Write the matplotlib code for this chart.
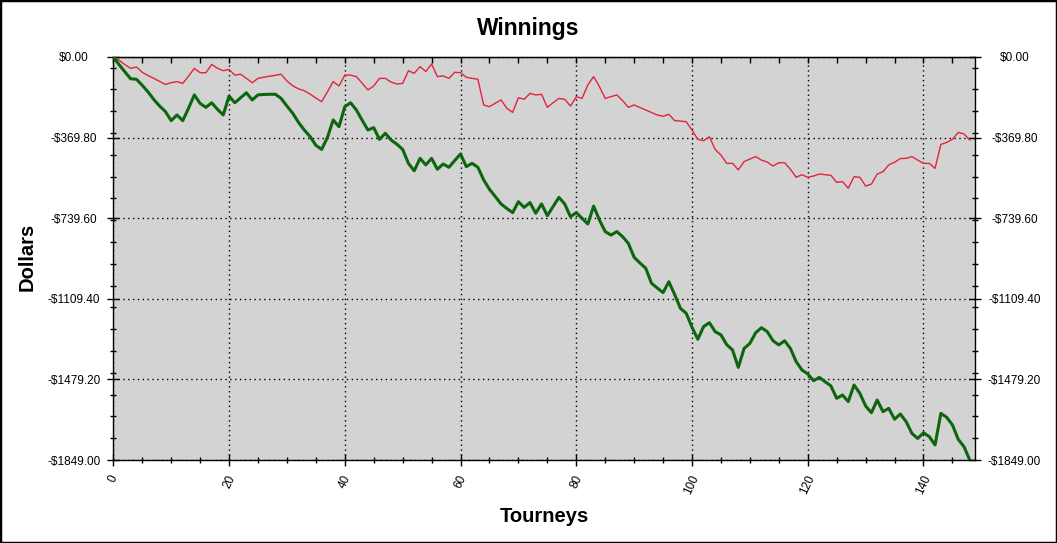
import numpy as np
import matplotlib
matplotlib.use("Agg")
import matplotlib.pyplot as plt
from matplotlib.ticker import FixedLocator, MultipleLocator, FuncFormatter
from matplotlib.patches import Rectangle

plt.rcParams['font.family'] = ['Liberation Sans', 'DejaVu Sans']

# cumulative winnings per tourney
green = [0, -35, -68, -100, -102, -130, -160, -195, -225, -250,
         -292, -266, -292, -235, -174, -213, -231, -210, -240, -266,
         -179, -210, -187, -164, -197, -174, -172, -171, -171, -190,
         -225, -258, -300, -335, -365, -405, -424, -369, -289, -320,
         -228, -210, -243, -290, -335, -324, -378, -350, -381, -400,
         -424, -488, -522, -465, -495, -465, -515, -491, -506, -475,
         -445, -503, -488, -506, -564, -607, -640, -674, -695, -714,
         -664, -690, -668, -717, -674, -728, -686, -644, -674, -733,
         -714, -740, -766, -684, -748, -801, -817, -801, -824, -855,
         -919, -945, -969, -1038, -1060, -1081, -1031, -1090, -1153, -1176,
         -1240, -1295, -1237, -1219, -1260, -1275, -1320, -1344, -1424, -1337,
         -1314, -1265, -1242, -1260, -1302, -1321, -1302, -1337, -1398, -1436,
         -1454, -1485, -1470, -1490, -1509, -1566, -1551, -1581, -1505, -1543,
         -1601, -1632, -1574, -1627, -1612, -1662, -1638, -1673, -1727, -1750,
         -1724, -1742, -1780, -1635, -1653, -1688, -1754, -1788, -1849]

red = [0, -15, -35, -52, -46, -70, -85, -98, -112, -126,
       -118, -113, -121, -88, -52, -72, -72, -34, -52, -63,
       -57, -83, -79, -98, -118, -98, -93, -88, -84, -79,
       -110, -132, -146, -155, -170, -188, -205, -160, -113, -133,
       -83, -83, -90, -120, -151, -133, -98, -98, -115, -124,
       -121, -63, -75, -44, -67, -32, -90, -87, -98, -70,
       -72, -93, -98, -102, -220, -228, -212, -197, -235, -254,
       -187, -194, -167, -174, -171, -231, -210, -190, -194, -225,
       -182, -190, -128, -90, -136, -190, -182, -174, -200, -231,
       -220, -232, -243, -255, -266, -272, -263, -292, -294, -297,
       -335, -378, -384, -366, -424, -450, -488, -488, -518, -480,
       -468, -457, -473, -482, -500, -485, -485, -515, -552, -540,
       -552, -546, -537, -540, -543, -575, -572, -602, -549, -552,
       -592, -583, -537, -526, -495, -483, -466, -465, -457, -473,
       -488, -488, -511, -401, -392, -378, -346, -353, -381]

tourneys = np.arange(len(green))
y_min = -1849.0
y_ticks = np.linspace(y_min, 0, 6)

fig = plt.figure(figsize=(10.57, 5.43), dpi=100)
ax = fig.add_axes([113.3 / 1057, 1 - 460 / 543, (975 - 113.3) / 1057, (460 - 57) / 543])
ax.set_facecolor('#d3d3d3')

ax.plot(tourneys, red, color='#e3243a', lw=1.0, zorder=3)
ax.plot(tourneys, green, color='#0c660c', lw=2.2, zorder=4)

ax.set_xlim(0, 148.9)
ax.set_ylim(y_min, 0)

ax.xaxis.set_major_locator(MultipleLocator(20))
ax.xaxis.set_minor_locator(MultipleLocator(5))
ax.yaxis.set_major_locator(FixedLocator(y_ticks))
ax.yaxis.set_minor_locator(FixedLocator(np.arange(y_min, 0, 100)))


def money(v, pos=None):
    if v < -0.005:
        return "-${:.2f}".format(abs(v))
    return "${:.2f}".format(abs(v))


ax.yaxis.set_major_formatter(FuncFormatter(money))

ax.grid(True, which='major', color='black', linestyle=(0, (1, 2.5)), lw=1.0)
ax.tick_params(axis='both', which='major', direction='inout', length=9, width=1,
               labelsize=8.5, colors='black')
ax.tick_params(axis='both', which='minor', direction='inout', length=5, width=1)
ax.tick_params(axis='y', which='both', left=True, right=True, labelleft=True,
               labelright=True, pad=24)
ax.tick_params(axis='x', pad=5)

for t in ax.yaxis.get_major_ticks():
    t.label1.set_ha('center')
    t.label2.set_ha('center')
for lab in ax.get_xticklabels():
    lab.set_rotation(65)
    lab.set_ha('center')
    lab.set_va('top')

top = ax.secondary_xaxis('top')
top.xaxis.set_major_locator(MultipleLocator(5))
top.tick_params(direction='in', length=4, width=1, labeltop=False)

for s in ax.spines.values():
    s.set_linewidth(1)

fig.text(0.5, 1 - 28 / 543, 'Winnings', ha='center', va='center',
         fontsize=16.5, fontweight='bold')
fig.text(27 / 1057, 1 - 257 / 543, 'Dollars', ha='center', va='center',
         rotation=90, fontsize=14.5, fontweight='bold')
fig.text(544 / 1057, 1 - 516 / 543, 'Tourneys', ha='center', va='center',
         fontsize=14.5, fontweight='bold')

fig.patches.append(Rectangle((0, 0), 1, 1, transform=fig.transFigure,
                             fill=False, edgecolor='black', lw=2.5))

fig.savefig('out.png', dpi=100)
